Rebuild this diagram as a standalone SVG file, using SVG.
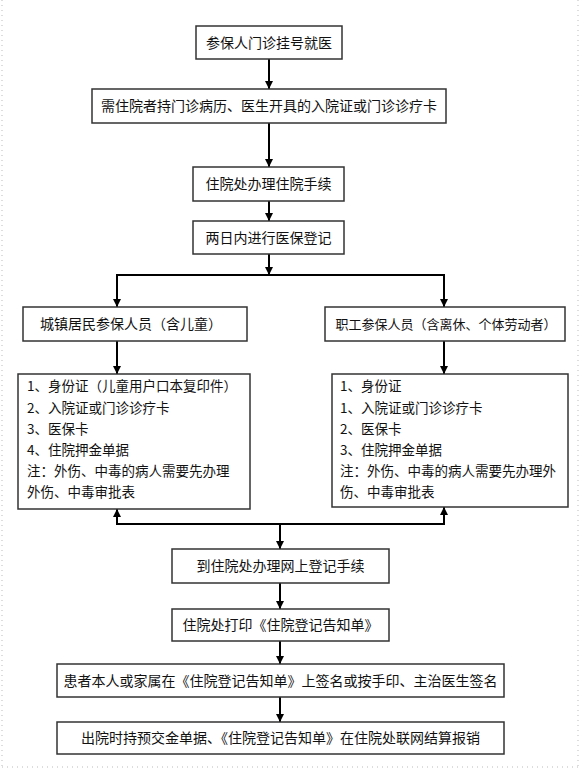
<svg xmlns="http://www.w3.org/2000/svg" width="581" height="768" viewBox="0 0 581 768">
<defs>
<style>
.box{fill:#fff;stroke:#333;stroke-width:1.5}
.t{font-family:"Noto Sans CJK SC","Noto Sans",sans-serif;font-size:14px;fill:#111;text-anchor:middle}
.l{font-family:"Noto Sans CJK SC","Noto Sans",sans-serif;font-size:13.5px;fill:#111}
.c{fill:none;stroke:#000;stroke-width:2}
.frame{fill:none;stroke:#bbb;stroke-width:1;stroke-dasharray:1 4}
</style>
<marker id="ah" markerWidth="8" markerHeight="10" refX="8" refY="4" orient="auto" markerUnits="userSpaceOnUse" viewBox="0 0 8 8">
<path d="M0,0 L8,4 L0,8 Z" fill="#000"/>
</marker>
</defs>
<rect width="581" height="768" fill="#fff"/>
<g id="frame">
<line class="frame" x1="2" y1="0" x2="2" y2="767"/>
<line class="frame" x1="2" y1="767" x2="578" y2="767"/>
<line class="frame" x1="578" y1="0" x2="578" y2="767"/>
</g>
<g id="connectors">
<line class="c" x1="269" y1="59" x2="269" y2="89" marker-end="url(#ah)"/>
<line class="c" x1="269" y1="123" x2="269" y2="167" marker-end="url(#ah)"/>
<line class="c" x1="269" y1="201" x2="269" y2="221" marker-end="url(#ah)"/>
<line class="c" x1="269" y1="254" x2="269" y2="275" marker-end="url(#ah)"/>
<polyline class="c" points="117,307 117,275 444,275 444,307"/>
<line class="c" x1="117" y1="276" x2="117" y2="307" marker-end="url(#ah)"/>
<line class="c" x1="444" y1="276" x2="444" y2="307" marker-end="url(#ah)"/>
<line class="c" x1="117" y1="341" x2="117" y2="374" marker-end="url(#ah)"/>
<line class="c" x1="444" y1="341" x2="444" y2="374" marker-end="url(#ah)"/>
<polyline class="c" points="117,509 117,524 444,524 444,507"/>
<line class="c" x1="117" y1="523" x2="117" y2="509" marker-end="url(#ah)"/>
<line class="c" x1="444" y1="523" x2="444" y2="507" marker-end="url(#ah)"/>
<line class="c" x1="280" y1="524" x2="280" y2="549" marker-end="url(#ah)"/>
<line class="c" x1="280" y1="583" x2="280" y2="609" marker-end="url(#ah)"/>
<line class="c" x1="280" y1="641" x2="280" y2="664" marker-end="url(#ah)"/>
<line class="c" x1="280" y1="697" x2="280" y2="722" marker-end="url(#ah)"/>
</g>
<g id="n1"><rect class="box" x="196" y="26" width="146" height="33"/><text class="t" x="269" y="48">参保人门诊挂号就医</text></g>
<g id="n2"><rect class="box" x="92" y="89" width="354" height="34"/><text class="t" x="269" y="111">需住院者持门诊病历、医生开具的入院证或门诊诊疗卡</text></g>
<g id="n3"><rect class="box" x="193" y="167" width="151" height="34"/><text class="t" x="268.5" y="189">住院处办理住院手续</text></g>
<g id="n4"><rect class="box" x="193" y="221" width="151" height="33"/><text class="t" x="268.5" y="243">两日内进行医保登记</text></g>
<g id="n5"><rect class="box" x="23" y="307" width="224" height="34"/><text class="t" x="131" y="329">城镇居民参保人员（含儿童）</text></g>
<g id="n6"><rect class="box" x="325" y="307" width="240" height="34"/><text class="t" x="446" y="329" style="font-size:13px">职工参保人员（含离休、个体劳动者）</text></g>
<g id="n7"><rect class="box" x="18" y="374" width="232" height="135"/>
<text class="l" x="27" y="391">1、身份证（儿童用户口本复印件）</text>
<text class="l" x="27" y="413">2、入院证或门诊诊疗卡</text>
<text class="l" x="27" y="434">3、医保卡</text>
<text class="l" x="27" y="455">4、住院押金单据</text>
<text class="l" x="27" y="476">注：外伤、中毒的病人需要先办理</text>
<text class="l" x="27" y="497">外伤、中毒审批表</text>
</g>
<g id="n8"><rect class="box" x="332" y="374" width="236" height="133"/>
<text class="l" x="340" y="391">1、身份证</text>
<text class="l" x="340" y="413">1、入院证或门诊诊疗卡</text>
<text class="l" x="340" y="434">2、医保卡</text>
<text class="l" x="340" y="455">3、住院押金单据</text>
<text class="l" x="340" y="476">注：外伤、中毒的病人需要先办理外</text>
<text class="l" x="340" y="497">伤、中毒审批表</text>
</g>
<g id="n9"><rect class="box" x="172" y="549" width="217" height="34"/><text class="t" x="280.5" y="571">到住院处办理网上登记手续</text></g>
<g id="n10"><rect class="box" x="172" y="609" width="217" height="32"/><text class="t" x="280.5" y="630">住院处打印《住院登记告知单》</text></g>
<g id="n11"><rect class="box" x="57" y="664" width="447" height="33"/><text class="t" x="280.5" y="686">患者本人或家属在《住院登记告知单》上签名或按手印、主治医生签名</text></g>
<g id="n12"><rect class="box" x="57" y="722" width="447" height="32"/><text class="t" x="280.5" y="743">出院时持预交金单据、《住院登记告知单》在住院处联网结算报销</text></g>
</svg>
